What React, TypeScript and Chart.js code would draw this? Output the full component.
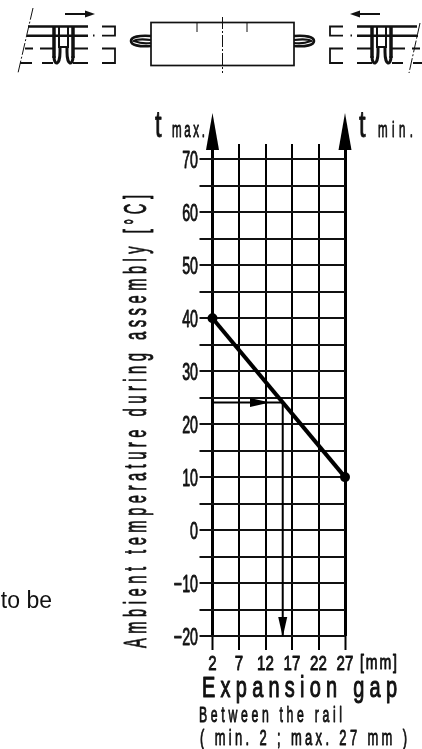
import React, { useEffect, useRef } from "react";
import { Chart, registerables } from "chart.js";

Chart.register(...registerables);

const gapLine = [
  { x: 2, y: 40 },
  { x: 27, y: 10 },
];
const readingLine = [
  { x: 2, y: 24.07 },
  { x: 15.25, y: 24.07 },
  { x: 15.25, y: -20 },
];
const readingArrowX = 12.85;
const xTicks = [2, 7, 12, 17, 22, 27];
const yMajorTicks = [70, 60, 50, 40, 30, 20, 10, 0, -10, -20];
const yLabel = "Ambient temperature during assembly [°C]";
const xLabel = "Expansion gap";
const xUnit = "[mm]";
const noteOne = "Between the rail";
const noteTwo = "( min. 2 ; max. 27 mm )";
const INK = "#111";

type TextOpts = { cap: number; width?: number; squeeze?: number; align?: "left" | "right" | "center"; weight?: number };

function spaced(ctx: any, text: string, x: number, baseline: number, o: TextOpts) {
  const size = o.cap / 0.716;
  const sx = o.squeeze ?? 0.55;
  ctx.save();
  ctx.font = `${size}px "Liberation Sans"`;
  ctx.textBaseline = "alphabetic";
  ctx.textAlign = "left";
  ctx.fillStyle = INK;
  ctx.strokeStyle = INK;
  ctx.lineWidth = o.weight ?? 0.9;
  ctx.lineJoin = "round";
  ctx.letterSpacing = "0px";
  const natural = ctx.measureText(text).width;
  let spacing = 0;
  if (o.width && text.length > 1) spacing = (o.width / sx - natural) / (text.length - 1);
  ctx.letterSpacing = `${spacing}px`;
  const total = (natural + spacing * (text.length - 1)) * sx;
  const left = o.align === "right" ? x - total : o.align === "center" ? x - total / 2 : x;
  ctx.translate(left, baseline);
  ctx.scale(sx, 1);
  ctx.fillText(text, 0, 0);
  ctx.strokeText(text, 0, 0);
  ctx.restore();
}

function triangle(ctx: any, a: number[], b: number[], c: number[]) {
  ctx.beginPath();
  ctx.moveTo(a[0], a[1]);
  ctx.lineTo(b[0], b[1]);
  ctx.lineTo(c[0], c[1]);
  ctx.closePath();
  ctx.fillStyle = "#000";
  ctx.fill();
}

const annotations = {
  id: "annotations",
  afterDraw(chart: any) {
    const { ctx, scales, chartArea } = chart;
    const xs = scales.x;
    const ys = scales.y;

    for (const v of xTicks.filter((t) => t === 2 || t === 27)) {
      const px = xs.getPixelForValue(v);
      triangle(ctx, [px, chartArea.top - 31], [px - 6.5, chartArea.top + 6], [px + 6.5, chartArea.top + 6]);
    }
    const readY = ys.getPixelForValue(readingLine[0].y);
    const tipX = xs.getPixelForValue(readingArrowX);
    triangle(ctx, [tipX, readY], [tipX - 20, readY - 4.5], [tipX - 20, readY + 4.5]);
    const downX = xs.getPixelForValue(readingLine[2].x);
    const downY = ys.getPixelForValue(readingLine[2].y);
    triangle(ctx, [downX, downY + 1], [downX - 4.5, downY - 19], [downX + 4.5, downY - 19]);

    for (const t of ys.ticks) {
      if (!t.label) continue;
      spaced(ctx, String(t.label), xs.left - 14.5, ys.getPixelForValue(t.value) + 8.5, {
        cap: 17,
        squeeze: 0.6,
        align: "right",
      });
    }
    for (const t of xs.ticks) {
      spaced(ctx, String(t.label), xs.getPixelForValue(t.value), 670, {
        cap: 15,
        squeeze: 0.72,
        align: "center",
      });
    }
    spaced(ctx, xUnit, 360, 669, { cap: 14, width: 37, squeeze: 0.72 });
    spaced(ctx, xLabel, 202, 697, { cap: 21, width: 195, squeeze: 0.68, weight: 1.1 });
    spaced(ctx, noteOne, 199, 722, { cap: 16, width: 143, squeeze: 0.55 });
    spaced(ctx, noteTwo, 200, 745, { cap: 16, width: 207, squeeze: 0.58 });
    spaced(ctx, "t", 155, 137, { cap: 26, squeeze: 0.65 });
    spaced(ctx, "max.", 172, 137, { cap: 16, width: 33, squeeze: 0.52 });
    spaced(ctx, "t", 359, 137, { cap: 26, squeeze: 0.65 });
    spaced(ctx, "min.", 378, 137, { cap: 16, width: 35, squeeze: 0.52 });

    ctx.save();
    ctx.translate(146, 648);
    ctx.rotate(-Math.PI / 2);
    spaced(ctx, yLabel, 0, 0, { cap: 23, width: 453, squeeze: 0.46 });
    ctx.restore();
  },
};

function Rail() {
  return (
    <g stroke="#111" fill="none" strokeWidth={1.8}>
      <path d="M28 26.5H88M27 35.7H88" strokeWidth={2.4} />
      <path d="M25 48.5H33M40 48.5H53M73 48.5H88M20 63H32M42 63H53M73 63H88" />
      <path d="M102 26.5H115V35.7H102M102 48.5H115V63H102" />
      <path d="M54 26V58M73 26V58" strokeWidth={3.5} />
      <path d="M59 26V47H68V26" strokeWidth={2} />
      <path d="M54 56C54 66 60 66 60 52V48M73 56C73 66 67 66 67 52V48" strokeWidth={3} />
      <path d="M65 14H88" strokeWidth={2} />
      <path d="M85 10.5L95 14L85 17.5Z" fill="#111" stroke="none" />
      <path d="M93 35.5H94.5" />
      <path d="M151 36C139 35 131 37 131 41C131 45 139 47 151 46" strokeWidth={2.6} />
      <path d="M151 40C143 39 137 39 134 41C139 43 145 44 151 43" strokeWidth={2.2} />
    </g>
  );
}

function Drawing() {
  return (
    <svg
      width={422}
      height={80}
      style={{ position: "absolute", left: 0, top: 0, display: "block" }}
    >
      <Rail />
      <g transform="translate(445,0) scale(-1,1)">
        <Rail />
      </g>
      <g stroke="#111" fill="none" strokeWidth={1.7}>
        <rect x={151} y={22.5} width={143} height={43} />
        <path d="M197 22V32M247 22V32" strokeWidth={1} />
        <path d="M222.5 17V73" strokeWidth={1} strokeDasharray="12 2 2 2" />
        <path d="M33 8L18 73" strokeWidth={1} strokeDasharray="12 2 2 2" />
        <path d="M420 23L409 73" strokeWidth={1} strokeDasharray="12 2 2 2" />
      </g>
    </svg>
  );
}

export default function App() {
  const ref = useRef<HTMLCanvasElement>(null);
  useEffect(() => {
    const chart = new Chart(ref.current!, {
      type: "line",
      data: {
        datasets: [
          {
            data: gapLine,
            borderColor: "#000",
            backgroundColor: "#000",
            borderWidth: 4,
            pointRadius: 3,
            clip: false,
          },
          {
            data: readingLine,
            borderColor: "#000",
            borderWidth: 2,
            pointRadius: 0,
            clip: false,
          },
        ],
      },
      plugins: [annotations],
      options: {
        responsive: false,
        animation: false,
        layout: { padding: { left: 199.5, right: 77, top: 144, bottom: 99 } },
        plugins: { legend: { display: false }, tooltip: { enabled: false } },
        scales: {
          x: {
            type: "linear",
            min: xTicks[0],
            max: xTicks[xTicks.length - 1],
            afterFit: (s: any) => {
              s.height = 14;
            },
            afterBuildTicks: (s: any) => {
              s.ticks = xTicks.map((value) => ({ value }));
            },
            ticks: { display: false },
            border: { display: false },
            grid: {
              color: "#000",
              tickColor: "#000",
              tickLength: 14,
              lineWidth: (c: any) => (c.tick && (c.tick.value === 2 || c.tick.value === 27) ? 3 : 2),
              tickWidth: 2,
            },
          },
          y: {
            type: "linear",
            min: -20,
            max: 72.887,
            afterFit: (s: any) => {
              s.width = 13;
            },
            afterBuildTicks: (s: any) => {
              const all: { value: number }[] = [];
              yMajorTicks.forEach((value, i) => {
                all.push({ value });
                if (i < yMajorTicks.length - 1) all.push({ value: (value + yMajorTicks[i + 1]) / 2 });
              });
              s.ticks = all;
            },
            ticks: {
              display: false,
              callback: (v: any) => (yMajorTicks.includes(v) ? String(v).replace("-", "\u2212") : ""),
            },
            border: { display: false },
            grid: { color: "#111", tickColor: "#111", tickLength: 13, lineWidth: 2, tickWidth: 2 },
          },
        },
      },
    } as any);
    return () => chart.destroy();
  }, []);
  return (
    <div style={{ position: "absolute", left: 0, top: 0, width: 422, height: 749, overflow: "hidden", background: "#fff" }}>
      <canvas ref={ref} width={422} height={749} style={{ display: "block" }} />
      <Drawing />
      <div
        style={{
          position: "absolute",
          right: 370,
          top: 587,
          font: '23px "Liberation Sans"',
          color: "#111",
          whiteSpace: "nowrap",
        }}
      >
        to be
      </div>
    </div>
  );
}
